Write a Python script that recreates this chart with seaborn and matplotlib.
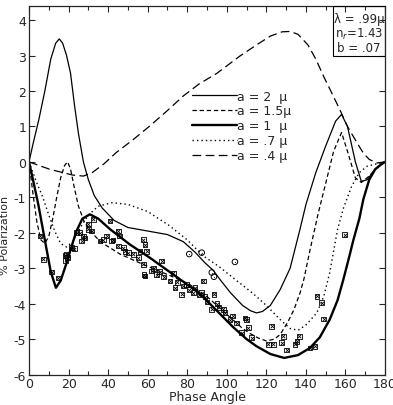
import numpy as np
import pandas as pd
import matplotlib
matplotlib.use("Agg")
import matplotlib.pyplot as plt
from matplotlib.patches import Rectangle
import seaborn as sns

# curvas teoricas (angulo de fase, % polarizacao)
ang_a2 = [0, 2, 5, 8, 11, 13.5, 15.3, 17, 19, 21, 23, 25, 27.5, 30, 33, 37, 43, 50, 60, 70, 78, 84, 89, 93,
          97, 102, 108, 112, 115, 118, 122, 127, 132, 137, 140, 145, 150, 155, 158, 161, 165, 168, 171, 175, 180]
pol_a2 = [0, 0.5, 1.2, 2.0, 2.9, 3.35, 3.47, 3.35, 3.0, 2.5, 1.6, 0.8, 0.0, -0.5, -0.95, -1.3, -1.65, -1.85,
          -1.95, -2.05, -2.25, -2.55, -2.85, -3.05, -3.35, -3.7, -4.05, -4.2, -4.26, -4.22, -4.05, -3.6, -3.0,
          -1.9, -1.2, -0.3, 0.45, 1.15, 1.34, 1.0, 0.0, -0.55, -0.5, -0.2, 0]

ang_a15 = [0, 2, 4, 6, 8, 10, 12, 14, 16, 18, 19.5, 21, 23, 25, 28, 31, 36, 46, 56, 71, 81, 90, 97, 103, 108,
           112, 116, 120, 124, 127, 131, 134, 137, 139, 142, 146, 150, 154, 158, 161, 165, 168, 172, 176, 180]
pol_a15 = [0, -0.9, -1.7, -2.2, -2.3, -2.1, -1.6, -1.0, -0.45, -0.1, 0.0, -0.2, -0.75, -1.25, -1.7, -1.95,
           -2.25, -2.6, -2.85, -3.2, -3.45, -3.8, -4.15, -4.45, -4.7, -4.85, -4.97, -5.05, -5.0, -4.87, -4.5,
           -4.16, -3.7, -3.3, -2.5, -1.5, -0.6, 0.3, 0.83, 0.3, -0.45, -0.58, -0.4, -0.15, 0]

ang_a1 = [0, 2, 4.7, 8, 11, 13.6, 16, 19, 22, 24, 27, 30.8, 35, 41, 51, 61, 73, 86, 95, 103, 110, 115, 122,
          129, 136, 142, 147, 152, 156, 159, 162, 164, 167, 169, 172, 175, 178, 180]
pol_a1 = [0, -0.5, -1.2, -2.2, -3.1, -3.55, -3.35, -2.85, -2.3, -1.95, -1.6, -1.48, -1.6, -1.9, -2.33, -2.7,
          -3.18, -3.7, -4.2, -4.65, -5.0, -5.2, -5.42, -5.53, -5.45, -5.25, -4.95, -4.45, -3.9, -3.3, -2.65,
          -2.2, -1.6, -1.06, -0.5, -0.21, -0.07, 0]

ang_a07 = [0, 4, 7, 10, 13, 16, 19, 22, 26, 30, 35, 42, 50, 60, 71, 80, 88, 96, 105, 113, 120, 127, 132, 136,
           140, 145.5, 149, 152, 156, 159, 163, 167, 171, 176, 180]
pol_a07 = [0, -0.6, -1.0, -1.5, -1.95, -2.3, -2.4, -2.25, -1.85, -1.5, -1.25, -1.15, -1.2, -1.4, -1.8, -2.2,
           -2.65, -2.95, -3.35, -3.7, -4.05, -4.45, -4.7, -4.75, -4.6, -4.26, -3.8, -3.13, -1.9, -1.3, -0.7,
           -0.3, -0.12, -0.05, 0]

ang_a04 = [0, 5, 10.6, 17, 22, 27.5, 32, 38, 44, 52, 61, 70, 78, 86, 95, 106.7, 115, 122, 128, 132, 136, 141,
           145, 148.8, 153, 157, 161, 165.7, 169, 172, 176, 180]
pol_a04 = [0, -0.1, -0.21, -0.3, -0.37, -0.4, -0.3, -0.05, 0.26, 0.6, 1.01, 1.45, 1.86, 2.2, 2.5, 2.99, 3.3,
           3.55, 3.67, 3.68, 3.6, 3.3, 2.9, 2.43, 1.95, 1.49, 1.0, 0.55, 0.25, 0.07, -0.03, 0]

# observacoes (x dentro de quadrado)
obs_x_ang = [5.6, 7.2, 11.5, 14.8, 18.2, 18.5, 19, 19.5, 21.6, 23, 24.1, 25.8, 26.6, 27.5, 28.3, 30, 30, 31.7,
             32.5, 35.9, 37.6, 39.3, 41, 41.8, 42.5, 45.2, 45.2, 45.8, 47.7, 48.5, 50.2, 52.7, 55.3, 56.1, 57.8,
             58.6, 58.6, 59.5, 57.8, 58.2, 62, 63, 64.6, 66, 67, 68, 71.3, 73, 73.8, 75, 77.2, 78, 79.7, 81,
             83.1, 84, 86, 87.3, 88.1, 89, 90, 92.4, 93.5, 95, 96, 98.2, 99, 101.6, 103, 105, 107.5, 109.2,
             110, 110.9, 112.6, 121, 122.7, 123.6, 127.7, 128.6, 130.3, 134.5, 135.4, 136.7, 142, 144.6,
             145.5, 148, 149, 159.5]
obs_x_pol = [-2.09, -2.75, -3.11, -3.27, -2.64, -2.78, -2.61, -2.7, -2.42, -2.45, -2.0, -2.0, -2.23, -2.09,
             -2.15, -1.75, -1.9, -1.95, -1.62, -2.23, -2.19, -2.09, -1.67, -2.23, -2.2, -1.95, -2.37, -2.09,
             -2.42, -2.52, -2.56, -2.61, -2.7, -2.52, -2.19, -2.33, -3.22, -2.52, -2.89, -3.18, -3.08, -3.0,
             -3.18, -3.1, -2.8, -3.25, -3.36, -3.13, -3.55, -3.4, -3.74, -3.5, -3.46, -3.6, -3.69, -3.55,
             -3.75, -3.69, -3.36, -3.8, -3.95, -4.16, -3.74, -4.0, -4.1, -4.16, -4.25, -4.45, -4.35, -4.55,
             -4.82, -4.4, -4.45, -4.68, -4.96, -5.15, -4.64, -5.15, -5.1, -4.92, -5.31, -5.15, -5.06, -4.92,
             -5.25, -5.2, -3.79, -3.97, -4.43, -2.05]

# observacoes (circulos)
obs_o_ang = [81, 87.3, 92.4, 93.5, 104.1]
obs_o_pol = [-2.6, -2.56, -3.12, -3.24, -2.82]

curvas = [
    ("a = 2  \u03bc", ang_a2, pol_a2, dict(lw=0.9, ls="-")),
    ("a = 1.5\u03bc", ang_a15, pol_a15, dict(lw=0.9, ls=(0, (3.5, 2.2)))),
    ("a = 1  \u03bc", ang_a1, pol_a1, dict(lw=1.7, ls="-")),
    ("a = .7 \u03bc", ang_a07, pol_a07, dict(lw=1.0, ls=(0, (1, 2.2)))),
    ("a = .4 \u03bc", ang_a04, pol_a04, dict(lw=0.9, ls=(0, (7, 3.5)))),
]

sns.set_style("ticks")
plt.rcParams['font.family'] = ['DejaVu Sans']
plt.rcParams['axes.unicode_minus'] = False

fig = plt.figure(figsize=(3.93, 4.06), dpi=100)
ax = fig.add_axes([0.0738, 0.0749, 0.906, 0.908])

for nome, xs, ys, estilo in curvas:
    df = pd.DataFrame({"ang": xs, "pol": ys})
    sns.lineplot(data=df, x="ang", y="pol", ax=ax, color="black", sort=False,
                 estimator=None, label=nome, linestyle=estilo["ls"], linewidth=estilo["lw"])

pts = pd.DataFrame({"ang": obs_x_ang, "pol": obs_x_pol})
sns.scatterplot(data=pts, x="ang", y="pol", ax=ax, marker="s", s=11, facecolor="none",
                edgecolor="black", linewidth=0.6, legend=False, zorder=3)
sns.scatterplot(data=pts, x="ang", y="pol", ax=ax, marker="x", s=6, color="black",
                linewidth=0.6, legend=False, zorder=3)
circ = pd.DataFrame({"ang": obs_o_ang, "pol": obs_o_pol})
sns.scatterplot(data=circ, x="ang", y="pol", ax=ax, marker="o", s=16, facecolor="none",
                edgecolor="black", linewidth=0.7, legend=False, zorder=3)
sns.scatterplot(data=circ, x="ang", y="pol", ax=ax, marker=".", s=3, color="black",
                legend=False, zorder=3)

ax.set_xlim(0, 180)
ax.set_ylim(-6, 4.4)
ax.set_xticks(range(0, 181, 20))
ax.set_xticks(range(10, 180, 20), minor=True)
ax.set_yticks(range(-6, 5))
ax.tick_params(which="both", direction="in", top=True, right=True, labelsize=9, pad=2)
ax.tick_params(which="major", length=4, width=0.8)
ax.tick_params(which="minor", length=3, width=0.8)
for s in ax.spines.values():
    s.set_linewidth(0.9)

ax.set_xlabel("Phase Angle", fontsize=9, labelpad=0)
ax.set_ylabel("% Polarization", fontsize=8, labelpad=0)
ax.yaxis.set_label_coords(-0.054, 0.38)

leg = ax.legend(loc="upper left", bbox_to_anchor=(0.44, 0.79), frameon=False, fontsize=9,
                handlelength=3.6, handletextpad=0.0, labelspacing=0.15, borderpad=0)

# caixa de parametros
ax.add_patch(Rectangle((0.854, 0.863), 0.146, 0.137, transform=ax.transAxes, fill=False,
                       edgecolor="black", linewidth=0.8, zorder=4))
ax.text(0.927, 0.966, "\u03bb = .99\u03bc", transform=ax.transAxes, ha="center", va="center", fontsize=8.5)
ax.text(0.927, 0.926, "n$_r$=1.43", transform=ax.transAxes, ha="center", va="center", fontsize=8.5)
ax.text(0.927, 0.888, "b = .07", transform=ax.transAxes, ha="center", va="center", fontsize=8.5)

fig.savefig("out.png", dpi=100)
